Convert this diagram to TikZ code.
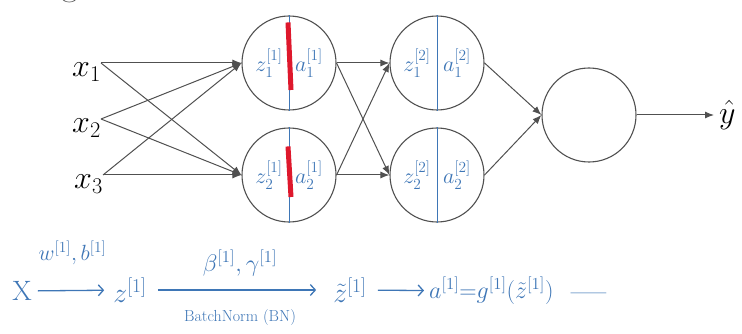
\RequirePackage{fix-cm}
\documentclass[tikz,border=0pt]{standalone}
\usepackage{amsmath, amssymb}
\usepackage{xcolor}
\usepackage{tikz}
\usetikzlibrary{arrows.meta, positioning}

\definecolor{handblue}{RGB}{62,118,182}
\definecolor{markred}{RGB}{222,24,44}
\definecolor{netgray}{RGB}{80,80,80}

\begin{document}
\begin{tikzpicture}[
    x=1pt, y=-1pt,
    neuron/.style={circle, draw=netgray, line width=1.1pt, minimum size=94pt, inner sep=0pt},
    inp/.style={inner sep=0pt, font=\fontsize{32}{36}\selectfont},
    conn/.style={draw=netgray, line width=1pt, -{Latex[length=9pt, width=7pt]}},
    hand/.style={text=handblue, inner sep=1pt, font=\fontsize{22}{24}\selectfont},
    handline/.style={draw=handblue, line width=1.3pt, -{Straight Barb[length=5pt, width=11pt]}},
    divider/.style={draw=handblue, line width=1pt},
    marker/.style={draw=markred, line width=5pt}
]
\useasboundingbox (0,0) rectangle (742,334);

% cut-off title at the top
\node[font=\fontsize{36}{40}\selectfont, text=netgray, anchor=base] (ttl) at (70,-4) {g};

% inputs
\node[inp, anchor=north east] (x1) at (101,63) {$x_1$};
\node[inp, anchor=north east] (x2) at (101,119) {$x_2$};
\node[inp, anchor=north east] (x3) at (103,175) {$x_3$};

% neurons
\node[neuron] (n11) at (289,63) {};
\node[neuron] (n12) at (289,175) {};
\node[neuron] (n21) at (437,63) {};
\node[neuron] (n22) at (437,175) {};
\node[neuron] (out) at (589,115) {};
\node[inp, inner sep=5pt, anchor=west] (yhat) at (714,115) {$\hat{y}$};

% connections
\foreach \s in {x1,x2,x3}
    \foreach \t in {n11,n12}
        \draw[conn] (\s.north east) -- (\t.west);
\foreach \s in {n11,n12}
    \foreach \t in {n21,n22}
        \draw[conn] (\s.east) -- (\t.west);
\foreach \s in {n21,n22}
    \draw[conn] (\s.east) -- (out.west);
\draw[conn] (out.east) -- (yhat.west);

% handwritten split of each hidden unit
\foreach \l/\i/\n in {1/1/n11, 1/2/n12, 2/1/n21, 2/2/n22} {
    \draw[divider] (\n.north) -- (\n.south);
    \node[hand] (z\l\i) at ([xshift=-20pt]\n.center) {$z^{[\l]}_{\i}$};
    \node[hand] (a\l\i) at ([xshift=20pt]\n.center) {$a^{[\l]}_{\i}$};
}
\draw[marker] ([xshift=-1pt, yshift=-7pt]n11.north) -- ([xshift=2pt, yshift=-27pt]n11.center);
\draw[marker] ([xshift=-1pt, yshift=-19pt]n12.north) -- ([xshift=2pt, yshift=-22pt]n12.center);

% handwritten chain below
\node[hand, font=\fontsize{28}{30}\selectfont] (bX) at (22,291) {X};
\node[hand, font=\fontsize{28}{30}\selectfont] (bz) at (130,290) {$z^{[1]}$};
\node[hand, font=\fontsize{28}{30}\selectfont] (bzt) at (350,290) {$\tilde{z}^{[1]}$};
\node[hand, font=\fontsize{24}{26}\selectfont, anchor=west] (ba) at (428,291) {$a^{[1]}{=}g^{[1]}(\tilde{z}^{[1]})$};
\node[hand, font=\fontsize{38}{40}\selectfont] (bdash) at (589,298) {---};

\draw[handline, shorten <=5pt, shorten >=8pt] (bX) -- node[above=24pt, hand] (lwb) {$w^{[1]}, b^{[1]}$} (bz);
\draw[handline, shorten <=10pt, shorten >=16pt] (bz) -- node[above=12pt, hand, font=\fontsize{24}{26}\selectfont] (lbg) {$\beta^{[1]}, \gamma^{[1]}$}
    node[below=18pt, hand, font=\fontsize{16}{18}\selectfont] (lbn) {BatchNorm (BN)} (bzt);
\draw[handline, shorten <=10pt, shorten >=4pt] (bzt) -- (ba);
\end{tikzpicture}
\end{document}
